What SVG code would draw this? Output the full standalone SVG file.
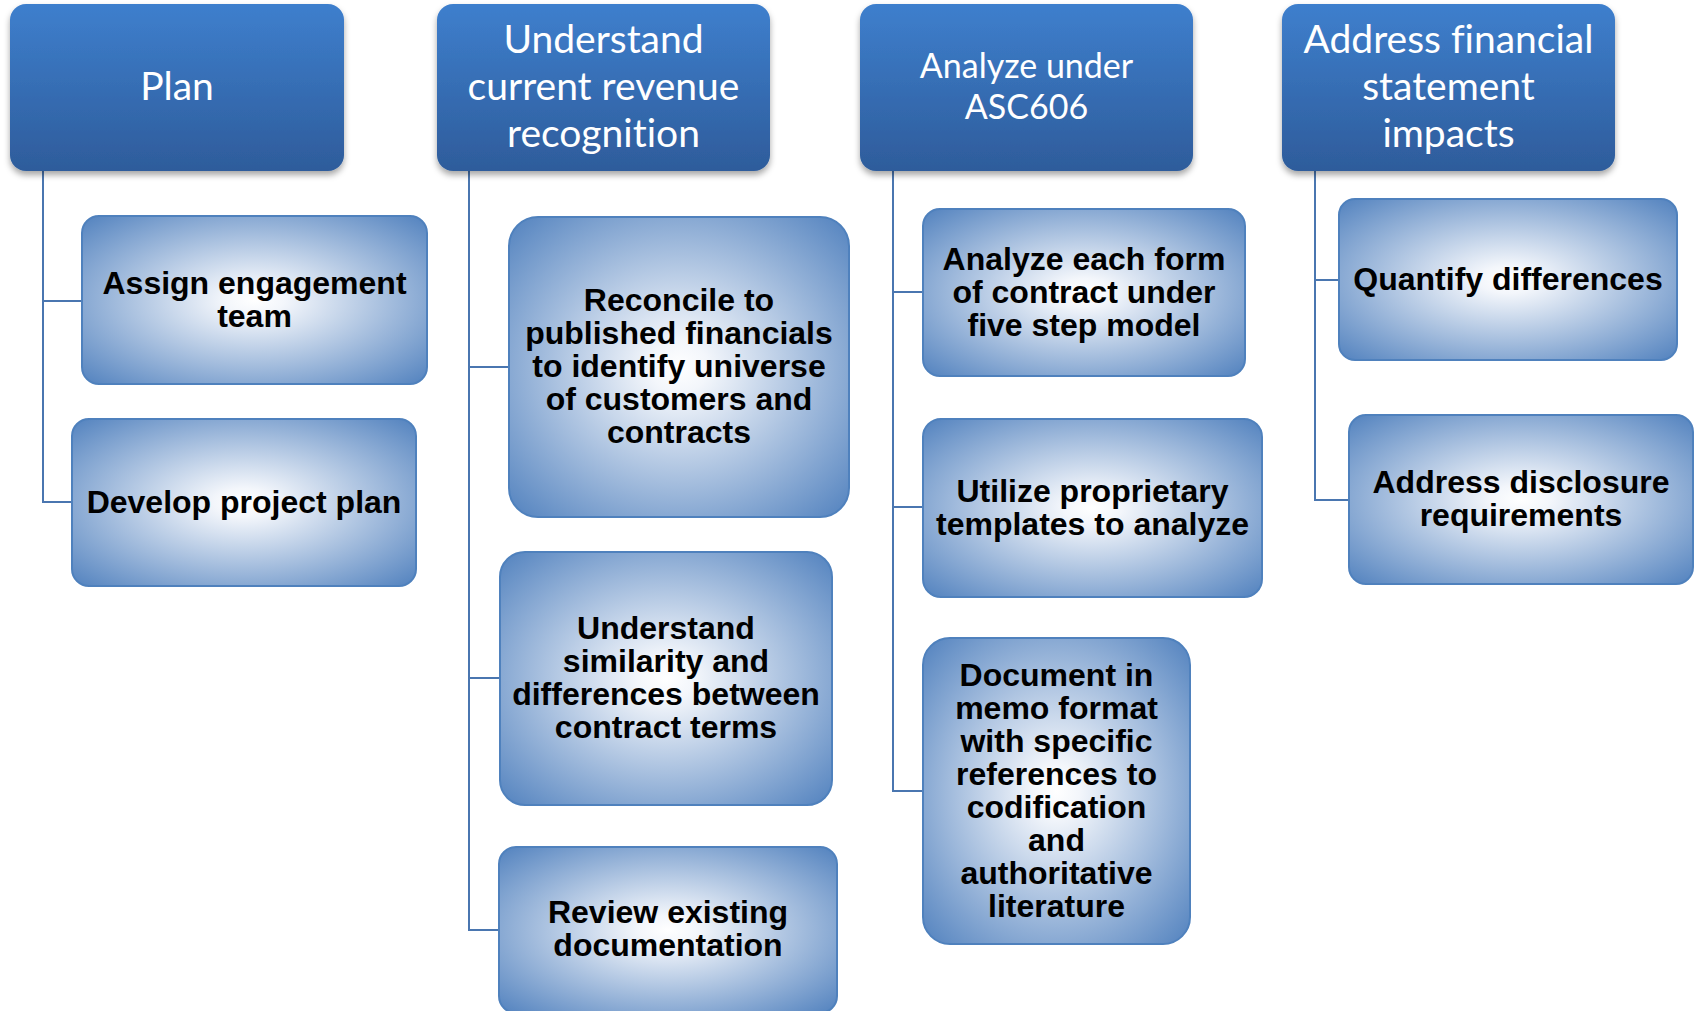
<svg xmlns="http://www.w3.org/2000/svg" width="1696" height="1011" viewBox="0 0 1696 1011">
  <defs>
    <linearGradient id="hdrFill" x1="0" y1="0" x2="0" y2="1">
      <stop offset="0" stop-color="#3E7FCD"/>
      <stop offset="1" stop-color="#2E5C9B"/>
    </linearGradient>
    <radialGradient id="taskFill" cx="0.5" cy="0.5" r="0.72">
      <stop offset="0" stop-color="#FFFFFF"/>
      <stop offset="0.12" stop-color="#F3F6FB"/>
      <stop offset="1" stop-color="#4E7FBD"/>
    </radialGradient>
    <filter id="hdrShadow" x="-10%" y="-10%" width="120%" height="130%">
      <feDropShadow dx="0" dy="4" stdDeviation="3" flood-color="#000" flood-opacity="0.35"/>
    </filter>
  </defs>
  <style>
    .hdr { fill: url(#hdrFill); filter: url(#hdrShadow); }
    .hdr-text { font-family: Lato, "Noto Sans", sans-serif; fill: #FFFFFF; text-anchor: middle; font-variant-ligatures: none; }
    .big { font-size: 39px; }
    .small { font-size: 34px; }
    .task { fill: url(#taskFill); stroke: #4F81BD; stroke-width: 2; }
    .task-text { font-family: "Liberation Sans", Arial, sans-serif; font-weight: bold; font-size: 32px; fill: #000000; text-anchor: middle; }
    .link { fill: none; stroke: #4A76B0; stroke-width: 2; }
  </style>
  <rect width="1696" height="1011" fill="#FFFFFF"/>

  <!-- tree connectors -->
  <g id="connectors">
    <path class="link" d="M43 171 V502 H72 M43 301 H82"/>
    <path class="link" d="M469 171 V930 H499 M469 367 H509 M469 678 H500"/>
    <path class="link" d="M893 171 V791 H923 M893 292 H923 M893 507 H923"/>
    <path class="link" d="M1315 171 V500 H1349 M1315 280 H1339"/>
  </g>

  <!-- column headers -->
  <g id="hdr-plan">
    <rect class="hdr" x="10" y="4" width="334" height="167" rx="16"/>
    <text class="hdr-text big" x="177" y="100">Plan</text>
  </g>
  <g id="hdr-understand">
    <rect class="hdr" x="437" y="4" width="333" height="167" rx="16"/>
    <text class="hdr-text big" x="603.5" y="53">Understand</text>
    <text class="hdr-text big" x="603.5" y="100">current revenue</text>
    <text class="hdr-text big" x="603.5" y="147">recognition</text>
  </g>
  <g id="hdr-analyze">
    <rect class="hdr" x="860" y="4" width="333" height="167" rx="16"/>
    <text class="hdr-text small" x="1026.5" y="78">Analyze under</text>
    <text class="hdr-text small" x="1026.5" y="119">ASC606</text>
  </g>
  <g id="hdr-address">
    <rect class="hdr" x="1282" y="4" width="333" height="167" rx="16"/>
    <text class="hdr-text big" x="1448.5" y="53">Address financial</text>
    <text class="hdr-text big" x="1448.5" y="100">statement</text>
    <text class="hdr-text big" x="1448.5" y="147">impacts</text>
  </g>

  <!-- Plan tasks -->
  <g id="task-assign">
    <rect class="task" x="82" y="216" width="345" height="168" rx="17"/>
    <text class="task-text" x="254.5" y="294">Assign engagement</text>
    <text class="task-text" x="254.5" y="327">team</text>
  </g>
  <g id="task-develop">
    <rect class="task" x="72" y="419" width="344" height="167" rx="17"/>
    <text class="task-text" x="244" y="513">Develop project plan</text>
  </g>

  <!-- Understand tasks -->
  <g id="task-reconcile">
    <rect class="task" x="509" y="217" width="340" height="300" rx="29"/>
    <text class="task-text" x="679" y="311">Reconcile to</text>
    <text class="task-text" x="679" y="344">published financials</text>
    <text class="task-text" x="679" y="377">to identify universe</text>
    <text class="task-text" x="679" y="410">of customers and</text>
    <text class="task-text" x="679" y="443">contracts</text>
  </g>
  <g id="task-similarity">
    <rect class="task" x="500" y="552" width="332" height="253" rx="25"/>
    <text class="task-text" x="666" y="639">Understand</text>
    <text class="task-text" x="666" y="672">similarity and</text>
    <text class="task-text" x="666" y="705">differences between</text>
    <text class="task-text" x="666" y="738">contract terms</text>
  </g>
  <g id="task-review">
    <rect class="task" x="499" y="847" width="338" height="166" rx="17"/>
    <text class="task-text" x="668" y="923">Review existing</text>
    <text class="task-text" x="668" y="956">documentation</text>
  </g>

  <!-- Analyze tasks -->
  <g id="task-five-step">
    <rect class="task" x="923" y="209" width="322" height="167" rx="17"/>
    <text class="task-text" x="1084" y="270">Analyze each form</text>
    <text class="task-text" x="1084" y="303">of contract under</text>
    <text class="task-text" x="1084" y="336">five step model</text>
  </g>
  <g id="task-templates">
    <rect class="task" x="923" y="419" width="339" height="178" rx="18"/>
    <text class="task-text" x="1092.5" y="502">Utilize proprietary</text>
    <text class="task-text" x="1092.5" y="535">templates to analyze</text>
  </g>
  <g id="task-memo">
    <rect class="task" x="923" y="638" width="267" height="306" rx="27"/>
    <text class="task-text" x="1056.5" y="686">Document in</text>
    <text class="task-text" x="1056.5" y="719">memo format</text>
    <text class="task-text" x="1056.5" y="752">with specific</text>
    <text class="task-text" x="1056.5" y="785">references to</text>
    <text class="task-text" x="1056.5" y="818">codification</text>
    <text class="task-text" x="1056.5" y="851">and</text>
    <text class="task-text" x="1056.5" y="884">authoritative</text>
    <text class="task-text" x="1056.5" y="917">literature</text>
  </g>

  <!-- Address tasks -->
  <g id="task-quantify">
    <rect class="task" x="1339" y="199" width="338" height="161" rx="16"/>
    <text class="task-text" x="1508" y="290">Quantify differences</text>
  </g>
  <g id="task-disclosure">
    <rect class="task" x="1349" y="415" width="344" height="169" rx="17"/>
    <text class="task-text" x="1521" y="493">Address disclosure</text>
    <text class="task-text" x="1521" y="526">requirements</text>
  </g>
</svg>
